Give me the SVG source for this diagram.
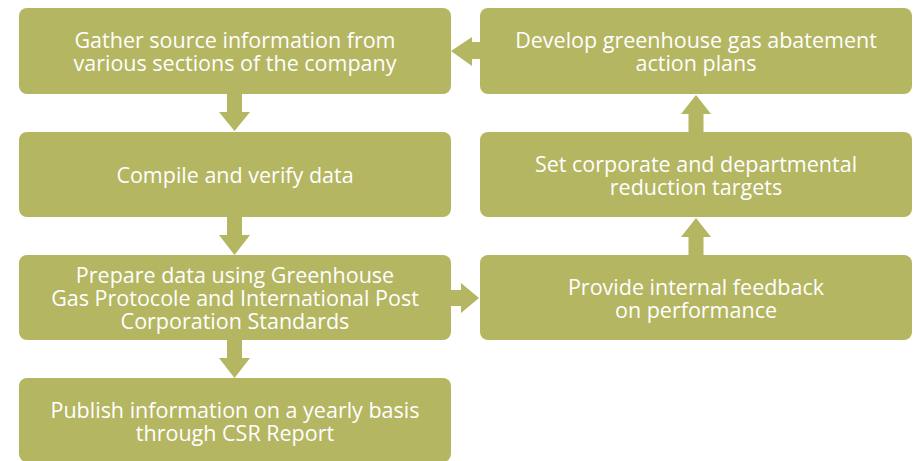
<svg xmlns="http://www.w3.org/2000/svg" width="917" height="461" viewBox="0 0 917 461">
  <style>
    .box { fill: #B4B662; }
    .arrow { fill: #B4B662; }
    .label { fill: #FFFFFF; font-family: "Open Sans", "Noto Sans", "DejaVu Sans", sans-serif; font-size: 21.5px; text-anchor: middle; }
  </style>
  <rect width="917" height="461" fill="#FFFFFF"/>

  <!-- connectors: block arrows between the steps -->
  <g id="connectors">
    <!-- gather -> compile -->
    <polygon class="arrow" points="227,94 242,94 242,112 250,112 234.5,131 219,112 227,112"/>
    <!-- compile -> prepare -->
    <polygon class="arrow" points="227,217 242,217 242,235 250,235 234.5,255 219,235 227,235"/>
    <!-- prepare -> publish -->
    <polygon class="arrow" points="227,340 242,340 242,358 250,358 234.5,378 219,358 227,358"/>
    <!-- prepare -> feedback -->
    <polygon class="arrow" points="451,290 461,290 461,283 479,298 461,313 461,306 451,306"/>
    <!-- feedback -> targets -->
    <polygon class="arrow" points="688.5,255 703.5,255 703.5,237 711,237 696,218 681,237 688.5,237"/>
    <!-- targets -> action plans -->
    <polygon class="arrow" points="688.5,132 703.5,132 703.5,114 711,114 696,95 681,114 688.5,114"/>
    <!-- action plans -> gather -->
    <polygon class="arrow" points="480,42 472,42 472,37 451,51 472,66 472,59 480,59"/>
  </g>

  <g id="gather">
    <rect class="box" x="19" y="8" width="432" height="86" rx="8"/>
    <text class="label" x="235" y="48">Gather source information from</text>
    <text class="label" x="235" y="71">various sections of the company</text>
  </g>

  <g id="compile">
    <rect class="box" x="19" y="132" width="432" height="85" rx="8"/>
    <text class="label" x="235" y="183">Compile and verify data</text>
  </g>

  <g id="prepare">
    <rect class="box" x="19" y="255" width="432" height="85" rx="8"/>
    <text class="label" x="235" y="283">Prepare data using Greenhouse</text>
    <text class="label" x="235" y="306">Gas Protocole and International Post</text>
    <text class="label" x="235" y="329">Corporation Standards</text>
  </g>

  <g id="publish">
    <rect class="box" x="19" y="378" width="432" height="84" rx="8"/>
    <text class="label" x="235" y="418">Publish information on a yearly basis</text>
    <text class="label" x="235" y="441">through CSR Report</text>
  </g>

  <g id="action-plans">
    <rect class="box" x="480" y="8" width="432" height="86" rx="8"/>
    <text class="label" x="696" y="48">Develop greenhouse gas abatement</text>
    <text class="label" x="696" y="71">action plans</text>
  </g>

  <g id="targets">
    <rect class="box" x="480" y="132" width="432" height="85" rx="8"/>
    <text class="label" x="696" y="172">Set corporate and departmental</text>
    <text class="label" x="696" y="195">reduction targets</text>
  </g>

  <g id="feedback">
    <rect class="box" x="480" y="255" width="432" height="85" rx="8"/>
    <text class="label" x="696" y="295">Provide internal feedback</text>
    <text class="label" x="696" y="318">on performance</text>
  </g>
</svg>
